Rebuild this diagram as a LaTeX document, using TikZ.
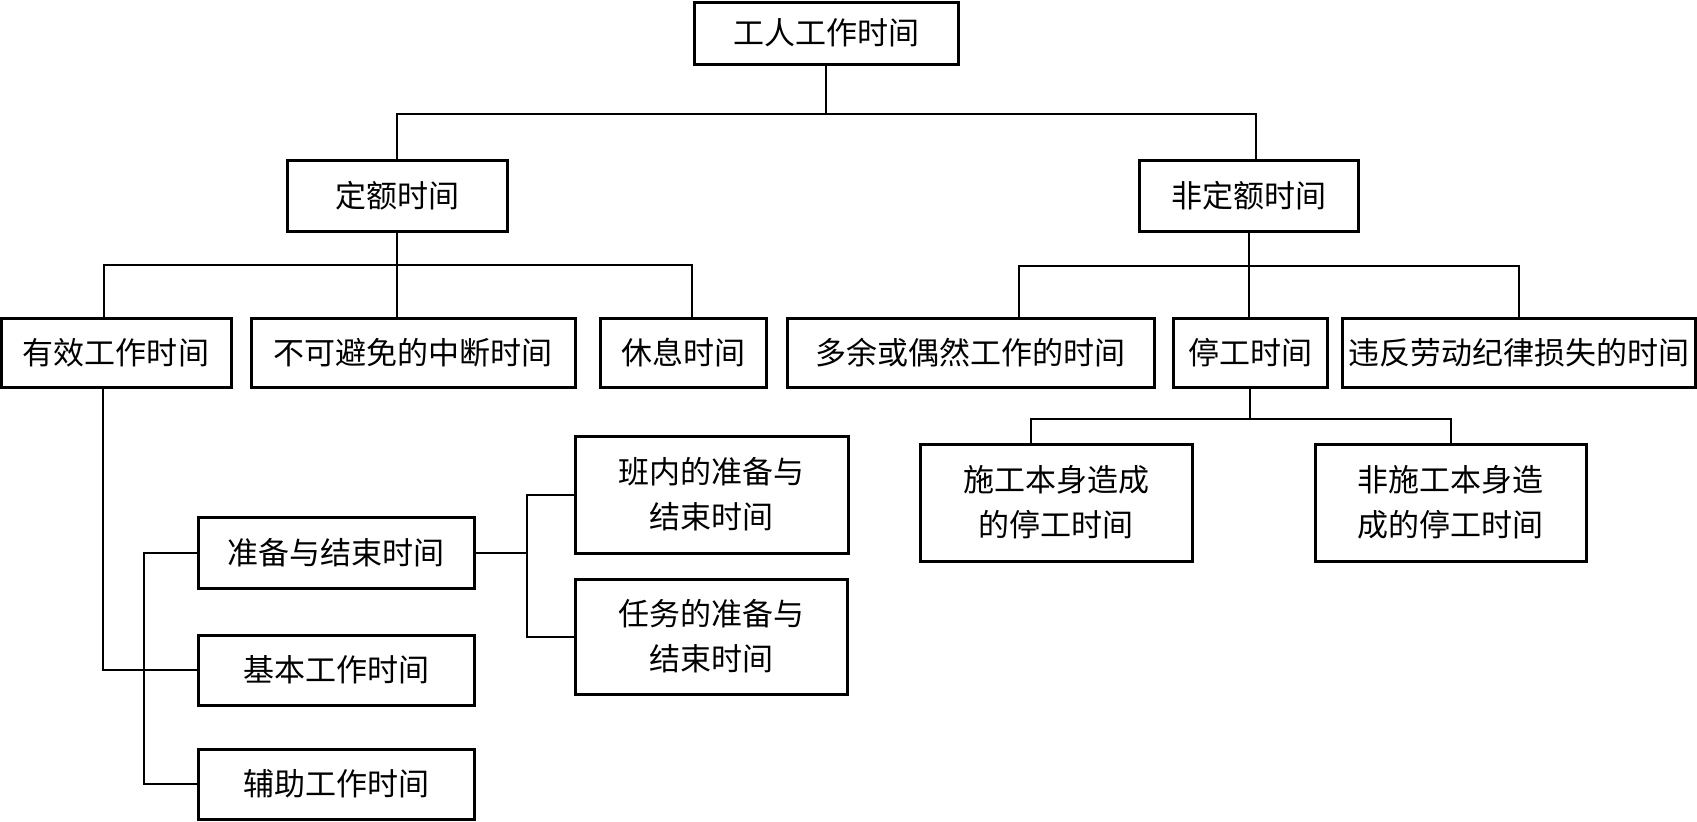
\documentclass[tikz,border=0pt]{standalone}
\usepackage{fontspec}
\newfontfamily\cjk{Noto Sans CJK SC}
\usetikzlibrary{positioning}

\begin{document}
\begin{tikzpicture}[
x=0.5pt,y=-0.5pt,
box/.style={draw,line width=1.5pt,align=center,inner sep=0pt,font=\cjk\fontsize{15.5}{22.5}\selectfont},
row/.style={box,minimum height=34.5pt},
link/.style={line width=1pt}
]
\useasboundingbox (0,0) rectangle (1697,821);
\node[box,minimum width=132pt,minimum height=31pt] (root) at (826,33) {工人工作时间};
\node[box,minimum width=110pt,minimum height=35.5pt] (quota) at (397,195.5) {定额时间};
\node[box,minimum width=109.5pt,minimum height=35.5pt] (nonquota) at (1248.5,195.5) {非定额时间};
\node[row,minimum width=115pt] (effective) at (116,352.5) {有效工作时间};
\node[row,minimum width=162pt] (interrupt) at (413,352.5) {不可避免的中断时间};
\node[row,minimum width=83pt] (rest) at (683,352.5) {休息时间};
\node[row,minimum width=183.5pt] (surplus) at (970.5,352.5) {多余或偶然工作的时间};
\node[row,minimum width=77pt] (stop) at (1250,352.5) {停工时间};
\node[row,minimum width=176.5pt] (violate) at (1518.5,352.5) {违反劳动纪律损失的时间};
\node[box,minimum width=136pt,minimum height=58.5pt] (selfstop) at (1056,502.5) {施工本身造成\\的停工时间};
\node[box,minimum width=135.5pt,minimum height=58.5pt] (otherstop) at (1450.5,502.5) {非施工本身造\\成的停工时间};
\node[box,minimum width=138pt,minimum height=35.5pt] (prep) at (336,552.5) {准备与结束时间};
\node[box,minimum width=138pt,minimum height=35pt] (basic) at (336,670) {基本工作时间};
\node[box,minimum width=138pt,minimum height=35pt] (aux) at (336,784) {辅助工作时间};
\node[box,minimum width=136.5pt,minimum height=58.5pt] (shiftprep) at (711.5,494.5) {班内的准备与\\结束时间};
\node[box,minimum width=136pt,minimum height=57.5pt] (taskprep) at (711,636.5) {任务的准备与\\结束时间};
\draw[link] (root.south) -- ++(0,48) coordinate (r1) -| (quota.north);
\draw[link] (r1) -| ([xshift=3.75pt]nonquota.north);
\draw[link] (quota.south) -- ++(0,32) coordinate (q1);
\draw[link] ([xshift=-6pt]effective.north) |- (q1) -| ([xshift=4.5pt]rest.north);
\draw[link] (q1) -- (q1 |- interrupt.north);
\draw[link] (nonquota.south) -- ++(0,33) coordinate (n1);
\draw[link] ([xshift=24pt]surplus.north) |- (n1) -| (violate.north);
\draw[link] (n1) -- (n1 |- stop.north);
\draw[link] (stop.south) -- ++(0,30) coordinate (s1);
\draw[link] ([xshift=-12.5pt]selfstop.north) |- (s1) -| (otherstop.north);
\draw[link] ([xshift=-6.5pt]effective.south) |- (basic.west);
\draw[link] (prep.west) -- ++(-53,0) |- (aux.west);
\draw[link] (prep.east) -- ++(51,0) coordinate (p1);
\draw[link] (shiftprep.west) -| (p1) |- (taskprep.west);
\end{tikzpicture}
\end{document}
